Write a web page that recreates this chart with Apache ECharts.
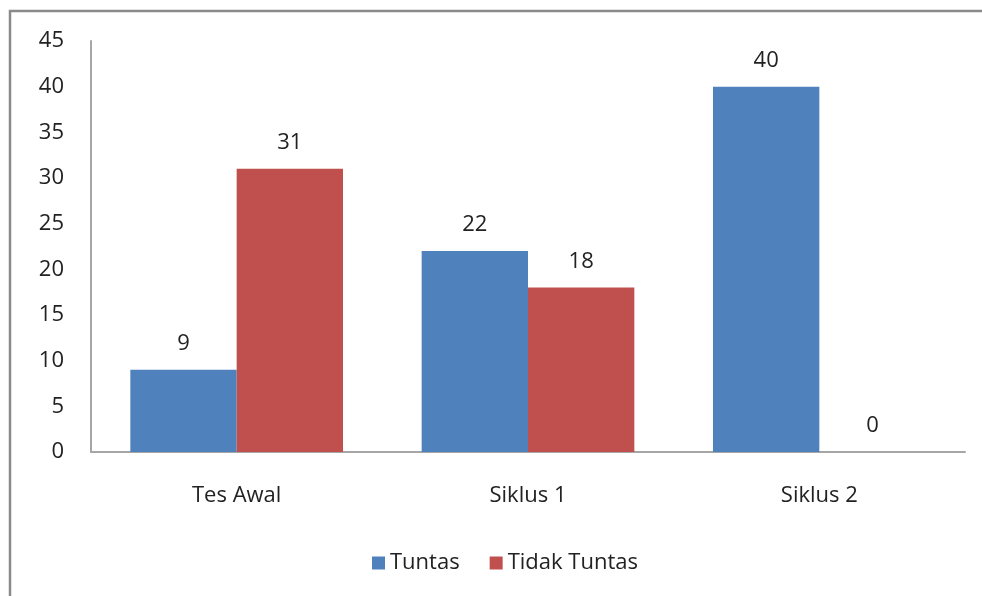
<!DOCTYPE html>
<html>
<head>
<meta charset="utf-8">
<script src="https://cdn.jsdelivr.net/npm/echarts@6/dist/echarts.min.js"></script>
<style>
  html, body { margin: 0; padding: 0; background: #fff; }
  #chart { width: 982px; height: 596px; }
</style>
</head>
<body>
<div id="chart"></div>
<script>
var categories = ['Tes Awal', 'Siklus 1', 'Siklus 2'];
var tuntas = [9, 22, 40];
var tidakTuntas = [31, 18, 0];

var font = '"Open Sans", Lato, sans-serif';

var chart = echarts.init(document.getElementById('chart'));

var option = {
    backgroundColor: '#fff',
    animation: false,
    textStyle: { fontFamily: font },
    graphic: [{
        type: 'rect',
        shape: { x: 10, y: 11, width: 1000, height: 700 },
        style: { fill: 'none', stroke: '#8a8a8a', lineWidth: 2.5 },
        silent: true
    }],
    grid: { left: 91, right: 17, top: 41, bottom: 144 },
    legend: {
        bottom: 17,
        left: 367,
        itemWidth: 13,
        itemHeight: 13,
        itemGap: 30,
        icon: 'rect',
        textStyle: { fontSize: 22, color: '#222', fontFamily: font },
        data: ['Tuntas', 'Tidak Tuntas']
    },
    xAxis: {
        type: 'category',
        data: categories,
        axisLine: { lineStyle: { color: '#a6a6a6', width: 2 } },
        axisTick: { show: false },
        axisLabel: { fontSize: 22, color: '#222', margin: 33 }
    },
    yAxis: {
        type: 'value',
        min: 0,
        max: 45,
        interval: 5,
        axisLine: { show: true, lineStyle: { color: '#a6a6a6', width: 2 } },
        axisTick: { show: false },
        splitLine: { show: false },
        axisLabel: { fontSize: 22, color: '#222', margin: 27 }
    },
    series: [{
        name: 'Tuntas',
        type: 'bar',
        data: tuntas,
        barGap: '0%',
        barCategoryGap: '27%',
        itemStyle: { color: '#4f81bd' },
        label: { show: true, position: 'top', distance: 15, fontSize: 22, color: '#222' }
    }, {
        name: 'Tidak Tuntas',
        type: 'bar',
        data: tidakTuntas,
        barGap: '0%',
        barCategoryGap: '27%',
        itemStyle: { color: '#c0504d' },
        label: { show: true, position: 'top', distance: 15, fontSize: 22, color: '#222' }
    }]
};

chart.setOption(option);
</script>
</body>
</html>
